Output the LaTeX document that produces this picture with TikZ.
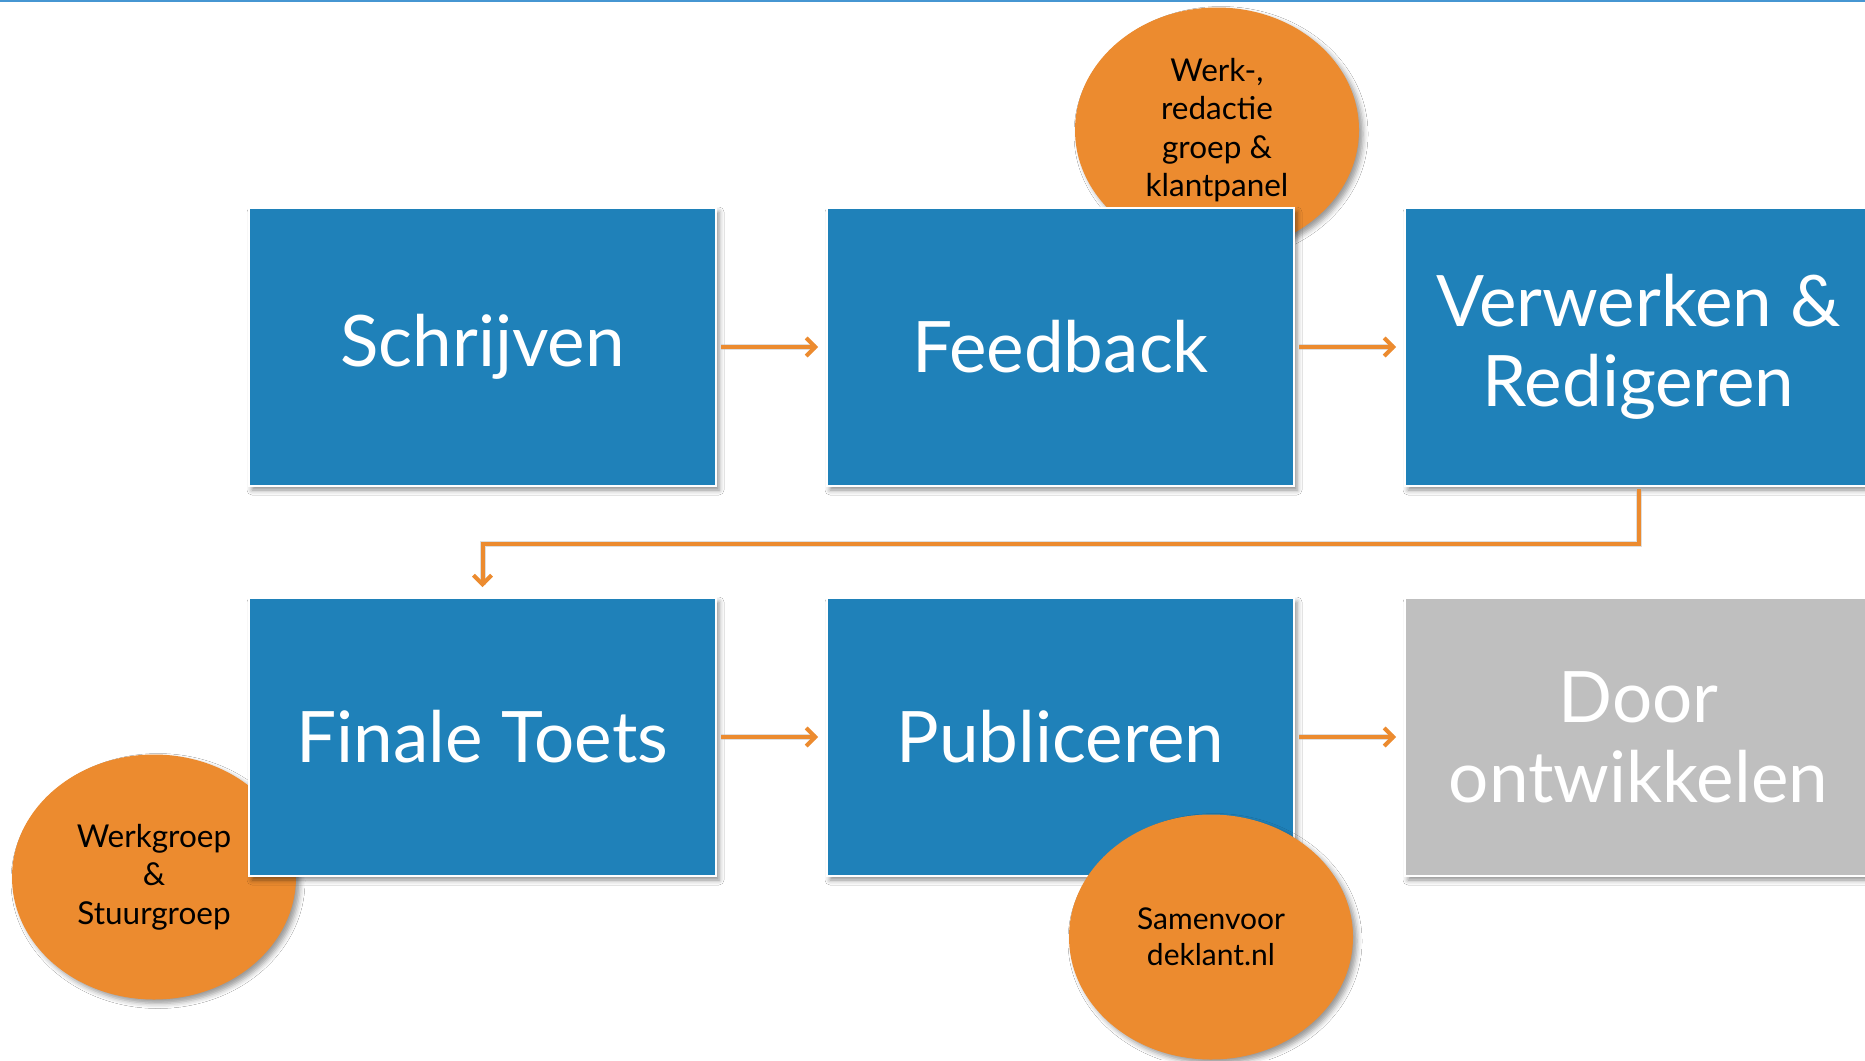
\documentclass[tikz,border=0pt]{standalone}
\usepackage{fontspec}
\setmainfont{Lato}
\usetikzlibrary{shadows.blur,arrows.meta,shapes.geometric}
\definecolor{boxblue}{RGB}{31,129,185}
\definecolor{orng}{RGB}{236,139,47}
\definecolor{greybox}{RGB}{191,191,191}
\definecolor{topline}{RGB}{70,150,210}
\tikzset{
  procbox/.style={rectangle, draw=white, line width=2pt, fill=boxblue, minimum width=467pt, minimum height=278pt, text=white, font=\fontsize{71}{80}\selectfont, align=center, inner sep=0pt, blur shadow={shadow xshift=3pt, shadow yshift=-4pt, shadow blur radius=5pt, shadow opacity=45}},
  greyproc/.style={procbox, fill=greybox},
  bubble/.style={ellipse, fill=orng, minimum width=284pt, minimum height=245pt, inner sep=0pt, align=center, text=black, font=\fontsize{31.5}{38.5}\selectfont, blur shadow={shadow xshift=4pt, shadow yshift=-4pt, shadow blur radius=5pt, shadow opacity=40}},
  flow/.style={draw=orng, line width=4pt, -{Straight Barb[length=9pt,width=18pt,line width=4pt]}},
  flowshadow/.style={draw=black!25, line width=6pt, opacity=0.5, shift={(3pt,-4pt)}},
}
\begin{document}
\begin{tikzpicture}[x=1pt,y=-1pt]
\useasboundingbox (0,0) rectangle (1865,1060);
\fill[white] (0,0) rectangle (1865,1060);
\draw[topline, line width=2.5pt] (0,1) -- (1865,1);
% bubbles behind boxes
\node[bubble] (b1) at (1217,130) {Werk-,\\redactie\\groep \&\\klantpanel};
\node[bubble] (b2) at (154,877) {Werkgroep\\\&\\Stuurgroep};
% boxes
\node[procbox] (s) at (482.5,347) {Schrijven};
\node[procbox] (f) at (1060.5,347) {Feedback};
\node[procbox] (v) at (1638.5,347) {Verwerken \&\\Redigeren};
\node[procbox] (t) at (482.5,737) {Finale Toets};
\node[procbox] (p) at (1060.5,737) {Publiceren};
\node[greyproc] (d) at (1638.5,737) {Door\\ontwikkelen};
\node[bubble, font=\fontsize{30}{36}\selectfont] (b3) at (1211,937) {Samenvoor\\deklant.nl};
% connector shadows
\draw[flowshadow] ([xshift=4pt]s.east) -- ([xshift=-10pt]f.west);
\draw[flowshadow] ([xshift=4pt]f.east) -- ([xshift=-10pt]v.west);
\draw[flowshadow] ([xshift=4pt]t.east) -- ([xshift=-10pt]p.west);
\draw[flowshadow] ([xshift=4pt]p.east) -- ([xshift=-10pt]d.west);
\draw[flowshadow] ([yshift=-2pt]v.south) -- ++(0,55) -| ([yshift=12pt]t.north);
% connectors
\draw[flow] ([xshift=4pt]s.east) -- ([xshift=-8pt]f.west);
\draw[flow] ([xshift=4pt]f.east) -- ([xshift=-8pt]v.west);
\draw[flow] ([xshift=4pt]t.east) -- ([xshift=-8pt]p.west);
\draw[flow] ([xshift=4pt]p.east) -- ([xshift=-8pt]d.west);
\draw[flow] ([yshift=-2pt]v.south) -- ++(0,55) -| ([yshift=10pt]t.north);
\end{tikzpicture}
\end{document}
